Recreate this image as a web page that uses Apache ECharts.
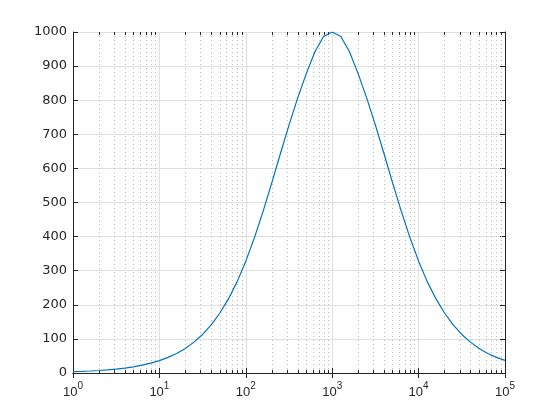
<!DOCTYPE html>
<html><head><meta charset="utf-8">
<script src="https://cdn.jsdelivr.net/npm/echarts@6/dist/echarts.min.js"></script>
<style>html,body{margin:0;padding:0;background:#fff}#c{width:560px;height:420px}</style>
</head><body><div id="c"></div>
<script>
// sample positions (logspace 10^0 .. 10^5, 51 points)
const xValues = [1, 1.259, 1.585, 1.995, 2.512, 3.162, 3.981, 5.012, 6.310, 7.943,
  10, 12.59, 15.85, 19.95, 25.12, 31.62, 39.81, 50.12, 63.10, 79.43,
  100, 125.9, 158.5, 199.5, 251.2, 316.2, 398.1, 501.2, 631.0, 794.3,
  1000, 1259, 1585, 1995, 2512, 3162, 3981, 5012, 6310, 7943,
  10000, 12589, 15849, 19953, 25119, 31623, 39811, 50119, 63096, 79433, 100000];
const yValues = [3.6, 4.6, 5.8, 7.3, 9.1, 11.5, 14.5, 18.2, 22.9, 28.8,
  36.3, 45.7, 57.4, 72, 90.5, 113, 141, 176, 218, 268,
  328, 397, 474, 557, 643, 727, 806, 878, 942, 987,
  1000, 987, 942, 878, 806, 727, 643, 557, 474, 397,
  328, 268, 218, 176, 141, 113, 90.5, 72, 57.4, 45.7, 37];
const xTickValues = [1, 10, 100, 1000, 10000, 100000];
const yTickLabels = ['0','100','200','300','400','500','600','700','800','900','1000'];

const axisColor = '#262626';
const gridColor = '#dfdfdf';
const minorGridColor = '#bdbdbd';

// minor positions between decades (axis decoration)
const minorX = [];
for (let e = 0; e < 5; e++) for (let m = 2; m <= 9; m++) minorX.push(m * Math.pow(10, e));

const minorGrid = minorX.map(v => ({xAxis: v}));
const minorTicks = [];
minorX.forEach(v => {
  minorTicks.push([{coord: [v, 0]}, {coord: [v, 9]}]);
  minorTicks.push([{coord: [v, 991]}, {coord: [v, 1000]}]);
});

const chart = echarts.init(document.getElementById('c'), null, {renderer: 'canvas'});
const xBase = {
  type: 'log', logBase: 10, min: 1, max: 100000,
  axisLine: {show: true, lineStyle: {color: axisColor, width: 1}},
  axisTick: {show: true, inside: true, length: 5, lineStyle: {color: axisColor}},
  minorTick: {show: false}
};
const yBase = {
  type: 'value', min: 0, max: 1000, interval: 100,
  axisLine: {show: true, lineStyle: {color: axisColor, width: 1}},
  axisTick: {show: true, inside: true, length: 5, lineStyle: {color: axisColor}}
};
chart.setOption({
  animation: false,
  backgroundColor: '#ffffff',
  grid: {left: 73, right: 55, top: 32, bottom: 47, containLabel: false},
  xAxis: [
    Object.assign({}, xBase, {
      position: 'bottom',
      splitLine: {show: true, lineStyle: {color: gridColor, width: 1}},
      axisLabel: {
        show: true, margin: 8, color: axisColor,
        formatter: function (v) {
          const e = Math.round(Math.log10(v));
          return '{b|10}{s|' + e + '}';
        },
        rich: {
          b: {fontFamily: 'Liberation Sans', fontSize: 13, color: axisColor, verticalAlign: 'bottom', lineHeight: 18},
          s: {fontFamily: 'Liberation Sans', fontSize: 10, color: axisColor, verticalAlign: 'top', lineHeight: 18, padding: [0,0,6,0]}
        }
      }
    }),
    Object.assign({}, xBase, {
      position: 'top',
      splitLine: {show: false},
      axisLabel: {show: false}
    })
  ],
  yAxis: [
    Object.assign({}, yBase, {
      position: 'left',
      splitLine: {show: true, lineStyle: {color: gridColor, width: 1}},
      axisLabel: {show: true, margin: 6, color: axisColor, fontFamily: 'DejaVu Sans', fontSize: 13,
        formatter: function (v) { return yTickLabels[Math.round(v / 100)]; }}
    }),
    Object.assign({}, yBase, {
      position: 'right',
      splitLine: {show: false},
      axisLabel: {show: false}
    })
  ],
  series: [
    {
      type: 'line', xAxisIndex: 0, yAxisIndex: 0, data: [], silent: true, z: 1,
      markLine: {
        silent: true, symbol: ['none', 'none'], animation: false,
        label: {show: false},
        lineStyle: {color: minorGridColor, type: [1, 3], width: 1},
        emphasis: {disabled: true},
        data: minorGrid
      }
    },
    {
      type: 'line', xAxisIndex: 0, yAxisIndex: 0, data: [], silent: true, z: 3,
      markLine: {
        silent: true, symbol: ['none', 'none'], animation: false,
        label: {show: false},
        lineStyle: {color: axisColor, type: 'solid', width: 1},
        emphasis: {disabled: true},
        data: minorTicks
      }
    },
    {
      type: 'line', xAxisIndex: 0, yAxisIndex: 0, z: 5,
      data: xValues.map((x, i) => [x, yValues[i]]),
      showSymbol: false, symbol: 'none', smooth: false,
      lineStyle: {color: '#0072BD', width: 1.2},
      clip: true
    }
  ]
});
</script>
</body></html>
